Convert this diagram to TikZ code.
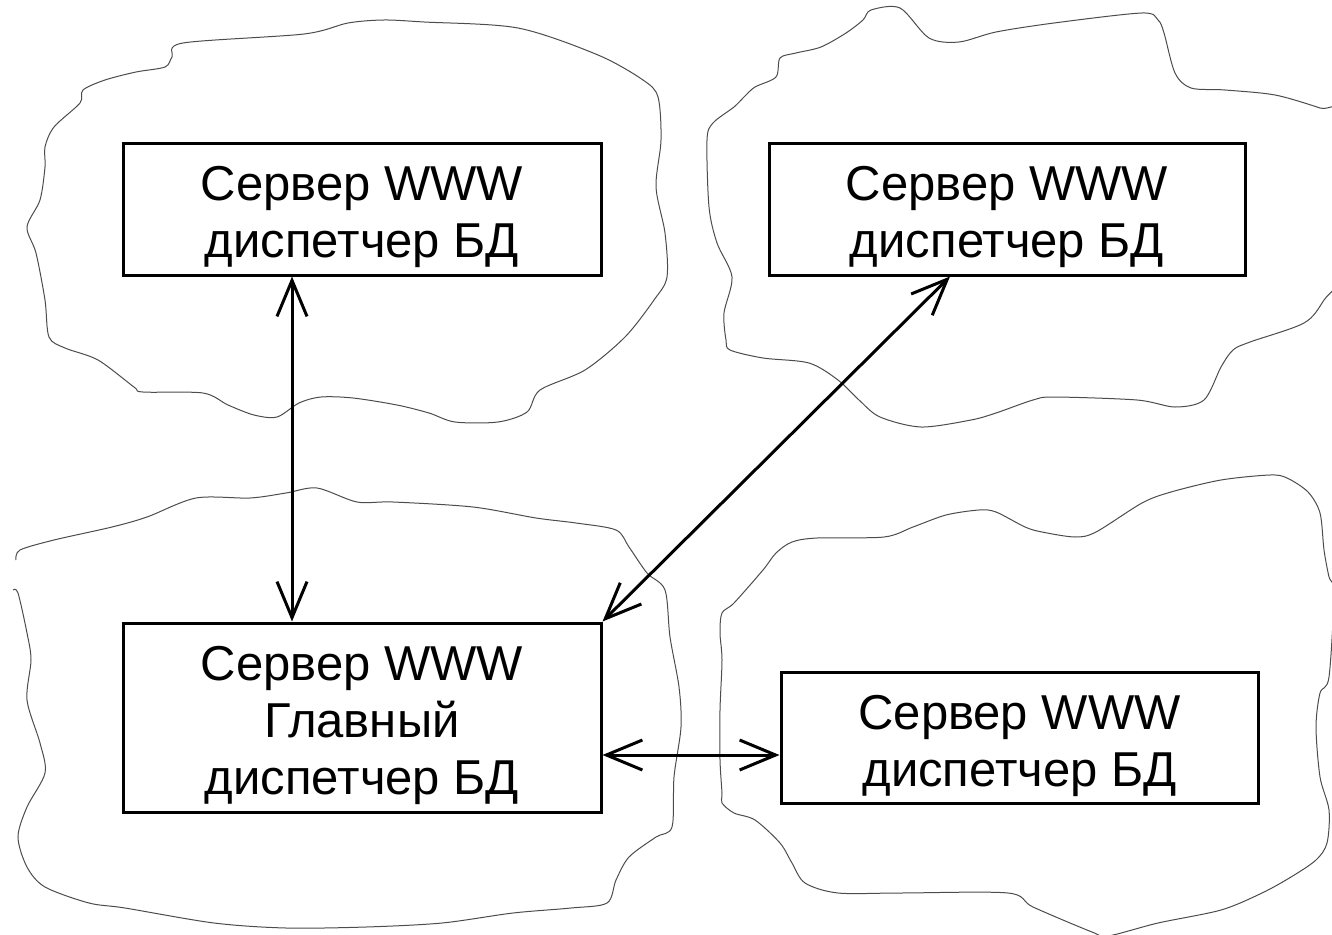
\documentclass[tikz,border=0pt]{standalone}
\usepackage{fontspec}
\setmainfont{Liberation Sans}
\usetikzlibrary{arrows.meta}
\tikzset{
  srv/.style={draw, line width=3pt, inner sep=0pt},
  srvtext/.style={inner sep=0pt, align=center, yshift=-8pt,
    font=\fontsize{49}{57}\selectfont},
  link/.style={line width=3pt, {Straight Barb[length=36pt,width=30pt,line width=3pt]}-{Straight Barb[length=36pt,width=30pt,line width=3pt]}},
  cloud/.style={line width=1pt, black!70}
}
\begin{document}
\begin{tikzpicture}[x=1pt,y=-1pt]
\useasboundingbox (0,0) rectangle (1332,934);
\begin{scope}
\clip (0,0) rectangle (1332,934);
% cloud top-left
\draw[cloud] plot[smooth cycle, tension=0.5] coordinates {
(183,43) (304,34) (348,23) (384,20) (424,22) (518,28) (598,55) (643,80) (658,97)
(661,140) (656,187) (665,233) (667,277) (654,300) (625,337) (585,370) (540,390)
(527,412) (498,422) (455,422) (429,413) (397,405) (353,398) (321,397) (299,403)
(277,417) (254,415) (228,405) (203,393) (143,392) (134,387) (98,360) (65,348)
(49,337) (45,300) (36,253) (27,227) (40,200) (45,167) (45,147) (54,127) (80,103)
(83,90) (105,80) (136,72) (165,67) (172,57)};
% cloud top-right
\draw[cloud] plot[smooth cycle, tension=0.5] coordinates {
(863,20) (871,10) (900,8) (929,38) (959,42) (996,32) (1054,23) (1142,13) (1158,20)
(1164,33) (1175,73) (1191,88) (1225,90) (1275,95) (1320,108) (1345,118)
(1345,262) (1324,300) (1304,323) (1250,342) (1233,350) (1221,367) (1204,400)
(1175,407) (1137,400) (1054,397) (1033,400) (996,413) (971,420) (921,427)
(880,417) (859,400) (838,380) (809,363) (763,358) (730,350) (726,340) (724,313)
(732,277) (717,243) (709,207) (707,140) (713,123) (734,107) (744,97) (755,87)
(776,77) (780,58) (796,53) (821,47) (846,33)};
% cloud bottom-left (open at left)
\draw[cloud] plot[smooth, tension=0.5] coordinates {
(16,560) (20,550) (54,540) (112,527) (147,517) (196,498) (250,498) (286,493)
(317,488) (357,502) (393,502) (473,507) (536,518) (576,523) (616,530) (629,547)
(647,573) (665,590) (670,637) (679,687) (681,727) (674,777) (672,827) (656,837)
(629,857) (616,880) (607,903) (571,908) (513,913) (442,923) (366,927) (286,928)
(214,923) (125,908) (89,903) (45,887) (27,867) (18,837) (27,807) (45,773) (40,743)
(27,700) (31,660) (27,633) (18,593) (13,590)};
% cloud bottom-right
\draw[cloud] plot[smooth cycle, tension=0.5] coordinates {
(722,613) (734,603) (763,570) (776,553) (792,542) (817,538) (884,537) (913,527)
(946,515) (979,510) (996,512) (1025,527) (1042,532) (1075,537) (1096,532)
(1142,503) (1171,492) (1221,480) (1270,475) (1287,478) (1308,492) (1320,513)
(1324,550) (1329,577) (1334,593) (1329,677) (1320,693) (1316,727) (1320,777)
(1329,810) (1327,843) (1316,860) (1291,877) (1262,893) (1221,910) (1158,923)
(1108,936) (1092,932) (1033,907) (1008,893) (900,893) (838,893) (805,883)
(792,863) (780,843) (755,820) (734,813) (722,803) (722,793) (720,760) (720,710)
(722,660) (720,633)};
\end{scope}
% servers
\node[srv, minimum width=478pt, minimum height=132pt] (tl) at (362,209) {};
\node[srvtext] (tlt) at (tl) {Сервер WWW\\диспетчер БД};
\node[srv, minimum width=476pt, minimum height=132pt] (tr) at (1007,209) {};
\node[srvtext] (trt) at (tr) {Сервер WWW\\диспетчер БД};
\node[srv, minimum width=478pt, minimum height=189pt] (main) at (362,717.5) {};
\node[srvtext] (maint) at (main) {Сервер WWW\\Главный\\диспетчер БД};
\node[srv, minimum width=477pt, minimum height=131pt] (br) at (1019.5,737.5) {};
\node[srvtext] (brt) at (br) {Сервер WWW\\диспетчер БД};
% links
\draw[link] ([xshift=-70pt]tl.south) -- ([xshift=-70pt]main.north);
\draw[link] ([xshift=-57pt]tr.south) -- (main.north east);
\draw[link] ([yshift=-37.5pt]main.east) -- ([yshift=-17.5pt]br.west);
\end{tikzpicture}
\end{document}
